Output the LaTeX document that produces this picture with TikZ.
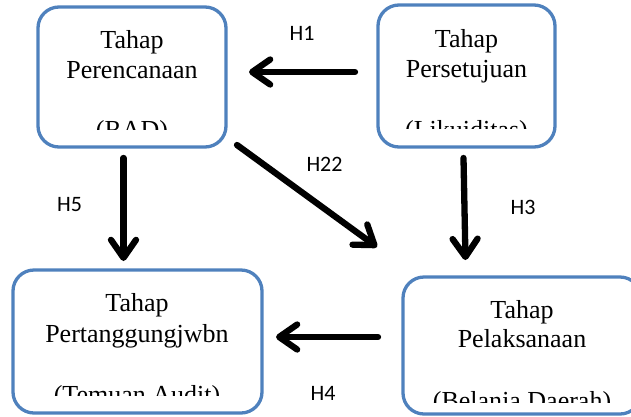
\documentclass[tikz,border=0pt]{standalone}
\usepackage{fontspec}
\setmainfont{Liberation Serif}
\newfontfamily\labelfont{Carlito}
\usetikzlibrary{arrows.meta}
\definecolor{boxblue}{HTML}{4F81BD}
\begin{document}
\begin{tikzpicture}[x=1pt,y=-1pt,
  box/.style={draw=boxblue, line width=3.3pt, rounded corners=21pt, inner sep=0pt},
  txt/.style={font=\fontsize{26}{30}\selectfont, inner sep=0pt, anchor=base},
  hlbl/.style={font=\labelfont\fontsize{22}{24}\selectfont, inner sep=0pt},
  arr/.style={line width=6.3pt, line cap=round, line join=round,
    -{Straight Barb[length=18pt,width=25pt,line join=round,line cap=round]}},
  shad/.style={line width=6.3pt, line cap=round, draw=black!25, opacity=0.6}]
\useasboundingbox (0,0) rectangle (631,416);
% boxes
\node[box, minimum width=188pt, minimum height=140pt] (A) at (132,77) {};
\node[box, minimum width=177pt, minimum height=142pt] (B) at (466.5,76) {};
\node[box, minimum width=249pt, minimum height=143pt] (C) at (137.5,341.5) {};
\node[box, minimum width=238pt, minimum height=137pt] (D) at (522,345.5) {};
% box texts
\node[txt] (a1) at (132,48.2) {Tahap};
\node[txt] (a2) at (132,78) {Perencanaan};
\begin{scope}
  \clip (40,100) rectangle (224,129);
  \node[txt] (a3) at (132,138) {(RAD)};
\end{scope}
\node[txt] (b1) at (466.5,47) {Tahap};
\node[txt] (b2) at (466.5,77) {Persetujuan};
\begin{scope}
  \clip (380,100) rectangle (553,128.5);
  \node[txt] (b3) at (466.5,138.5) {(Likuiditas)};
\end{scope}
\node[txt] (c1) at (137,311.7) {Tahap};
\node[txt] (c2) at (137,342.7) {Pertanggungjwbn};
\begin{scope}
  \clip (15,370) rectangle (260,395);
  \node[txt] (c3) at (137,403.5) {(Temuan Audit)};
\end{scope}
\node[txt] (d1) at (522,318.3) {Tahap};
\node[txt] (d2) at (522,347.7) {Pelaksanaan};
\begin{scope}
  \clip (405,375) rectangle (631,402.5);
  \node[txt] (d3) at (522,409) {(Belanja Daerah)};
\end{scope}
% arrow end points
\coordinate (h1s) at (355,72);
\coordinate (h1e) at (249,72);
\coordinate (h5s) at (123.5,158);
\coordinate (h5e) at (123.5,261);
\coordinate (h3s) at (463.5,158);
\coordinate (h3e) at (465.5,260);
\coordinate (h22s) at (237,145);
\coordinate (h22e) at (377,247);
\coordinate (h4s) at (378,337);
\coordinate (h4e) at (276,337);
% arrows
\draw[arr] (h1s) -- (h1e);
\draw[arr] (h5s) -- (h5e);
\draw[arr] (h3s) -- (h3e);
\draw[arr] (h22s) -- (h22e);
\draw[arr] (h4s) -- (h4e);
% labels
\node[hlbl] (l1) at (302,33.5) {H1};
\node[hlbl] (l22) at (324.5,164) {H22};
\node[hlbl] (l5) at (69.5,204.5) {H5};
\node[hlbl] (l3) at (523,207) {H3};
\node[hlbl] (l4) at (323,393) {H4};
\end{tikzpicture}
\end{document}
